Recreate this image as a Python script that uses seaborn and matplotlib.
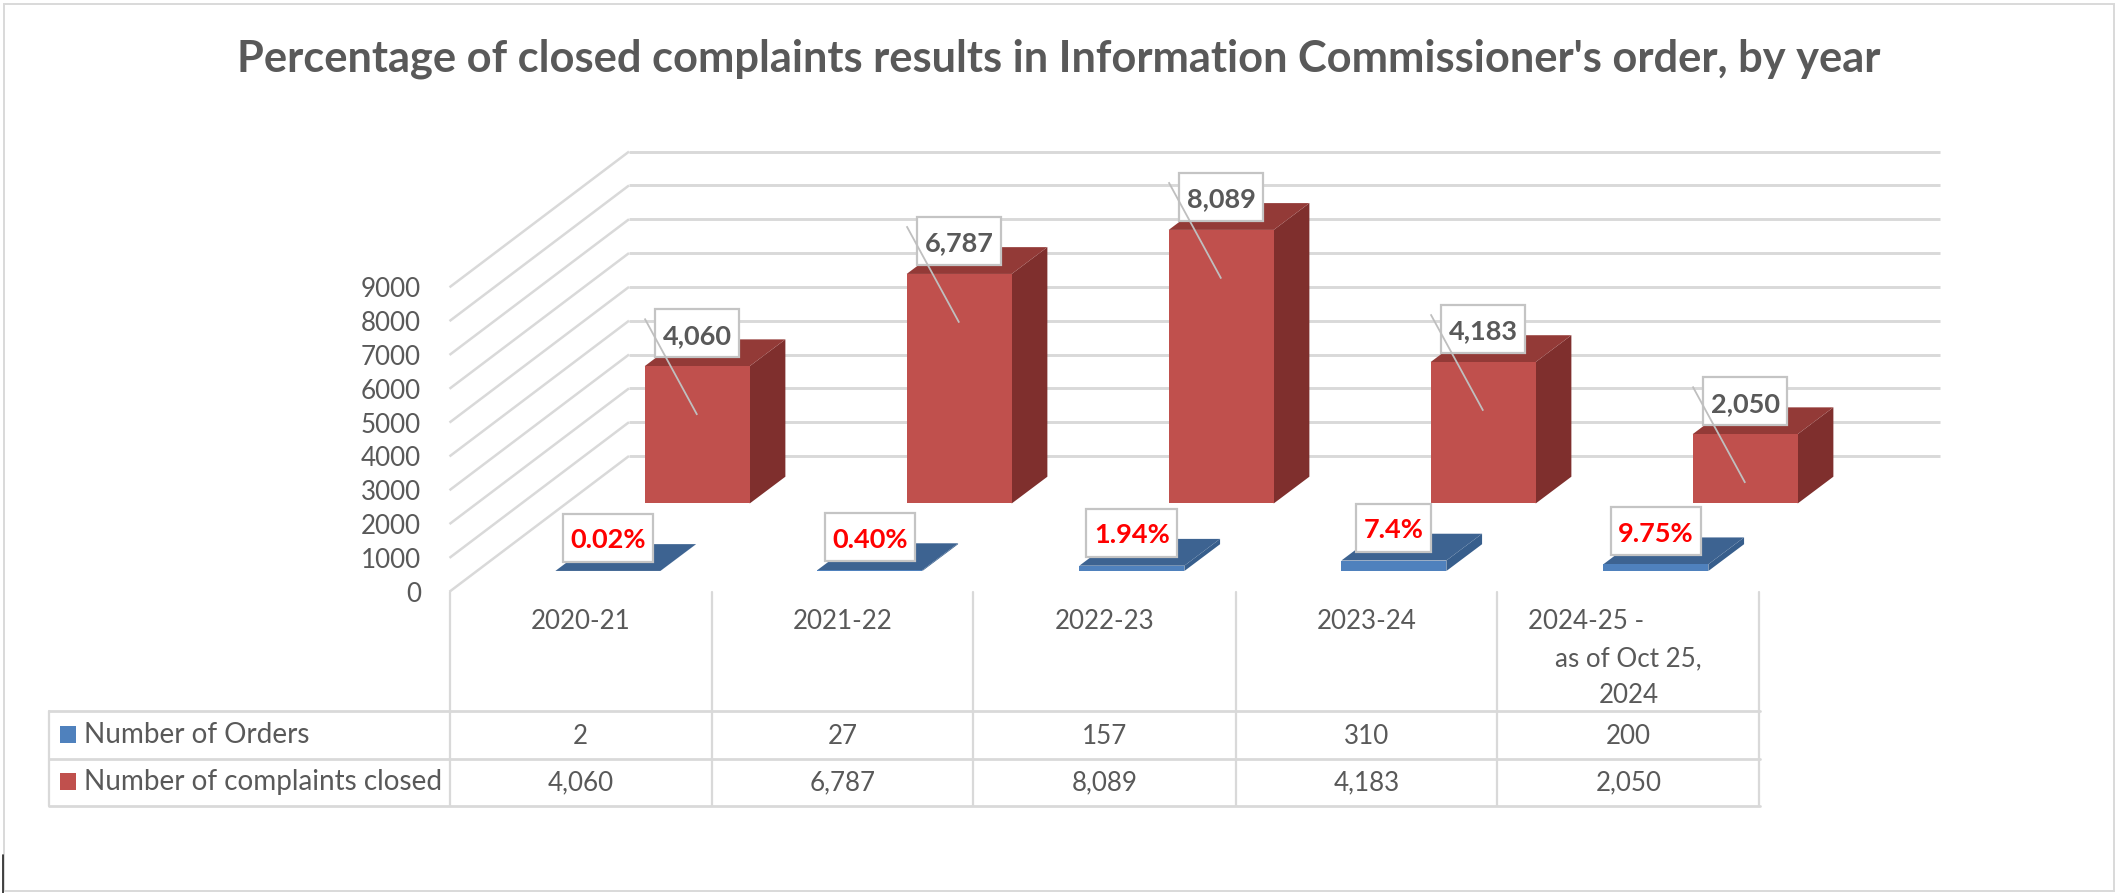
import matplotlib
matplotlib.use("Agg")
import matplotlib.pyplot as plt
from matplotlib.lines import Line2D
from matplotlib.patches import Polygon, Rectangle
from matplotlib.transforms import blended_transform_factory
import numpy as np
import seaborn as sns

TITLE = "Percentage of closed complaints results in Information Commissioner's order, by year"
YEARS = ["2020-21", "2021-22", "2022-23", "2023-24", "2024-25 -\nas of Oct 25,\n2024"]
ORDERS = [2, 27, 157, 310, 200]
CLOSED = [4060, 6787, 8089, 4183, 2050]
ORDER_LABELS = ["0.02%", "0.40%", "1.94%", "7.4%", "9.75%"]
CLOSED_LABELS = ["4,060", "6,787", "8,089", "4,183", "2,050"]
ROW_NAMES = ["Number of Orders", "Number of complaints closed"]
ORDER_CELLS = ["2", "27", "157", "310", "200"]
CLOSED_CELLS = ["4,060", "6,787", "8,089", "4,183", "2,050"]
Y_TICKS = list(range(0, 10000, 1000))

W, H = 2117, 893
PX_X = 262.0          # pixels per category
PX_Y = 304.4 / 9000   # pixels per value unit
LEFT, BASE, TOP, RIGHT = 449.5, 591.7, 130.0, 1950.0
TEXT = "#595959"
GRID = "#D9D9D9"
FS = 18.7

sns.set_theme(style="white")
plt.rcParams["font.family"] = ["Lato", "DejaVu Sans"]

fig = plt.figure(figsize=(W / 100, H / 100), dpi=100, facecolor="white")
ax = fig.add_axes([LEFT / W, 1 - BASE / H, (RIGHT - LEFT) / W, (BASE - TOP) / H])
ax.set_facecolor("none")


def fy(py):
    return 1 - py / H


def fx(px):
    return px / W


# oblique depth of the floor, in data units
DX = 179.5 / PX_X
DY = 135.7 / PX_Y
BAR_DX = 35.7 / PX_X
BAR_DY = 26.8 / PX_Y
BAR_W = 105.0 / PX_X
X_END = (1940 - LEFT) / PX_X - 0.5
idx = np.arange(len(YEARS), dtype=float)

# walls
for v in Y_TICKS:
    ax.plot([-0.5, -0.5 + DX], [v, v + DY], color=GRID, lw=1.8, zorder=1,
            clip_on=False, solid_capstyle="butt")
    ax.plot([-0.5 + DX, X_END], [v + DY, v + DY], color=GRID, lw=2.1, zorder=1,
            solid_capstyle="butt")


def bars3d(values, depth, front, top, side, z):
    xs = idx + depth * DX
    sns.barplot(x=xs, y=values, native_scale=True, width=BAR_W, bottom=depth * DY,
                color=front, saturation=1, errorbar=None, ax=ax, zorder=z + 0.2,
                linewidth=0)
    rects = list(ax.containers[-1])
    for r in rects:
        x0, w, y0, h = r.get_x(), r.get_width(), r.get_y(), r.get_height()
        ax.add_patch(Polygon([(x0 + w, y0), (x0 + w + BAR_DX, y0 + BAR_DY),
                              (x0 + w + BAR_DX, y0 + h + BAR_DY), (x0 + w, y0 + h)],
                             closed=True, fc=side, ec="none", zorder=z))
        ax.add_patch(Polygon([(x0, y0 + h), (x0 + w, y0 + h),
                              (x0 + w + BAR_DX, y0 + h + BAR_DY), (x0 + BAR_DX, y0 + h + BAR_DY)],
                             closed=True, fc=top, ec="none", zorder=z + 0.1))
    return rects


red = bars3d(CLOSED, 0.65, "#C0504D", "#933A37", "#7F2F2D", 3)
blue = bars3d(ORDERS, 0.1525, "#4F81BD", "#3D6391", "#375E8C", 4)

# axes furniture
ax.set_xlim(-0.5, -0.5 + (RIGHT - LEFT) / PX_X)
ax.set_ylim(0, (BASE - TOP) / PX_Y)
for s in ax.spines.values():
    s.set_visible(False)
ax.set_yticks(Y_TICKS)
ax.set_yticklabels([str(v) for v in Y_TICKS], fontsize=FS, color=TEXT)
ax.tick_params(axis="y", length=0, pad=20.5)
ax.set_xticks([])
ax.set_xlabel("")
ax.set_ylabel("")
ax.grid(False)

renderer = fig.canvas.get_renderer()


def tag(rect, label, color):
    cx = rect.get_x() + rect.get_width() / 2
    topv = rect.get_y() + rect.get_height()
    t = ax.text(cx, topv + 22.5 / PX_Y, label, ha="center", va="baseline", fontsize=19.5,
                fontweight="bold", color=color, zorder=6, clip_on=False)
    tw = t.get_window_extent(renderer).width + 15
    ax.add_patch(Rectangle((cx - tw / 2 / PX_X, topv + 9 / PX_Y), tw / PX_X, 48 / PX_Y,
                           fc="white", ec="#C4C4C4", lw=1.6, zorder=5, clip_on=False))


for r, lab in zip(red, CLOSED_LABELS):
    tag(r, lab, TEXT)
    cx = r.get_x() + r.get_width() / 2
    topv = r.get_y() + r.get_height()
    ax.plot([r.get_x(), cx], [topv + 47.7 / PX_Y, topv - 48.7 / PX_Y], color="#BFBFBF",
            lw=1.3, zorder=7, solid_capstyle="butt")
for r, lab in zip(blue, ORDER_LABELS):
    tag(r, lab, "#FF0000")

# data table below the plot
tx = blended_transform_factory(ax.transData, fig.transFigure)
rows_y = [710.7, 759.0, 806.0]
edges = np.arange(len(YEARS) + 1) - 0.5
for e in edges:
    fig.add_artist(Line2D([e, e], [fy(BASE), fy(rows_y[-1])], transform=tx, color=GRID, lw=1.6))
for py in rows_y:
    fig.add_artist(Line2D([fx(49), fx(LEFT + PX_X * len(YEARS))], [fy(py), fy(py)],
                          transform=fig.transFigure, color=GRID, lw=2.0))
fig.add_artist(Line2D([fx(49), fx(49)], [fy(rows_y[0]), fy(rows_y[-1])],
                      transform=fig.transFigure, color=GRID, lw=1.6))

for i, lab in enumerate(YEARS[:-1]):
    fig.text(i, fy(629.3), lab, transform=tx, ha="center", va="baseline", fontsize=FS, color=TEXT)
last = YEARS[-1].split("\n")
fig.text(4 - 42 / PX_X, fy(629.3), last[0], transform=tx, ha="center", va="baseline",
         fontsize=FS, color=TEXT)
fig.text(4, fy(666.7), last[1], transform=tx, ha="center", va="baseline", fontsize=FS, color=TEXT)
fig.text(4, fy(703.3), last[2], transform=tx, ha="center", va="baseline", fontsize=FS, color=TEXT)

for name, cells, py, key in zip(ROW_NAMES, [ORDER_CELLS, CLOSED_CELLS], [744, 790.7],
                                ["#4F81BD", "#C0504D"]):
    fig.add_artist(Rectangle((fx(60), fy(py - 1.2)), 16 / W, 16.5 / H, transform=fig.transFigure,
                             fc=key, ec="none"))
    fig.text(fx(84), fy(py - 1), name, ha="left", va="baseline", fontsize=20.1, color=TEXT)
    for i, c in enumerate(cells):
        fig.text(i, fy(py), c, transform=tx, ha="center", va="baseline", fontsize=FS, color=TEXT)

fig.text(fx(1059), fy(71.7), TITLE, ha="center", va="baseline", fontsize=31.2, fontweight="bold",
         color=TEXT)

# chart frame
fig.add_artist(Rectangle((fx(3.5), fy(890.5)), 2110.5 / W, 887 / H, transform=fig.transFigure,
                         fc="none", ec=GRID, lw=1.4))
fig.add_artist(Line2D([fx(3), fx(3)], [fy(855), fy(893)], transform=fig.transFigure,
                      color="#222222", lw=1.2))

fig.savefig("out.png", dpi=100, facecolor="white")
